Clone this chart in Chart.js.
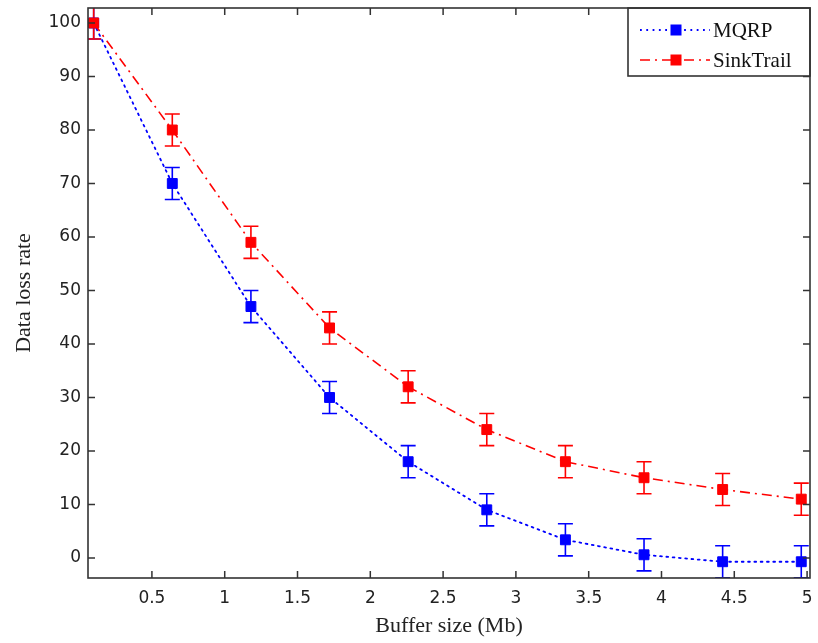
<!DOCTYPE html>
<html>
<head>
<meta charset="utf-8">
<script src="https://cdn.jsdelivr.net/npm/chart.js@4.4.1/dist/chart.umd.min.js"></script>
<style>
  html, body { margin: 0; padding: 0; background: #fff; }
  #wrap { width: 818px; height: 643px; }
</style>
</head>
<body>
<div id="wrap"><canvas id="c" width="818" height="643"></canvas></div>
<script>
// Buffer size (Mb) at each measurement
const bufferSizes = [0.1, 0.64, 1.18, 1.72, 2.26, 2.8, 3.34, 3.88, 4.42, 4.96];
// Data loss rate per protocol
const mqrpLoss      = [100, 70, 47, 30, 18, 9, 3.4, 0.6, -0.7, -0.7];
const sinkTrailLoss = [100, 80, 59, 43, 32, 24, 18, 15, 12.8, 11];
// Half-length of each error bar
const mqrpErr      = [3, 3, 3, 3, 3, 3, 3, 3, 3, 3];
const sinkTrailErr = [3, 3, 3, 3, 3, 3, 3, 3, 3, 3];
// Axis tick values
const xTickValues = [0.5, 1, 1.5, 2, 2.5, 3, 3.5, 4, 4.5, 5];
const yTickValues = [0, 10, 20, 30, 40, 50, 60, 70, 80, 90, 100];
const seriesNames = ['MQRP', 'SinkTrail'];

const BLUE = '#0000ff';
const RED = '#ff0000';
const FRAME = '#333333';
const serif = '"Liberation Serif", "Times New Roman", serif';
const sans = '"DejaVu Sans", sans-serif';

function pts(xs, ys) { return xs.map((x, i) => ({ x: x, y: ys[i] })); }

const errorBars = {
  id: 'errorBars',
  beforeDatasetsDraw(chart) {
    const { ctx, chartArea, scales } = chart;
    ctx.save();
    ctx.beginPath();
    ctx.rect(chartArea.left, chartArea.top, chartArea.right - chartArea.left, chartArea.bottom - chartArea.top);
    ctx.clip();
    chart.data.datasets.forEach(ds => {
      const errs = ds.errors;
      if (!errs) return;
      ctx.strokeStyle = ds.borderColor;
      ctx.lineWidth = 1.6;
      ds.data.forEach((p, i) => {
        const x = scales.x.getPixelForValue(p.x);
        const yTop = scales.y.getPixelForValue(p.y + errs[i]);
        const yBot = scales.y.getPixelForValue(p.y - errs[i]);
        const cap = 7.5;
        ctx.beginPath();
        ctx.moveTo(x, yTop); ctx.lineTo(x, yBot);
        ctx.moveTo(x - cap, yTop); ctx.lineTo(x + cap, yTop);
        ctx.moveTo(x - cap, yBot); ctx.lineTo(x + cap, yBot);
        ctx.stroke();
      });
    });
    ctx.restore();
  }
};

const frameAndLegend = {
  id: 'frameAndLegend',
  afterDraw(chart) {
    const { ctx, chartArea: a, scales } = chart;
    ctx.save();
    // inward ticks on all four sides
    ctx.strokeStyle = FRAME;
    ctx.lineWidth = 1.5;
    const tl = 7;
    ctx.beginPath();
    xTickValues.forEach(v => {
      const x = scales.x.getPixelForValue(v);
      ctx.moveTo(x, a.bottom); ctx.lineTo(x, a.bottom - tl);
      ctx.moveTo(x, a.top); ctx.lineTo(x, a.top + tl);
    });
    yTickValues.forEach(v => {
      const y = scales.y.getPixelForValue(v);
      ctx.moveTo(a.left, y); ctx.lineTo(a.left + tl, y);
      ctx.moveTo(a.right, y); ctx.lineTo(a.right - tl, y);
    });
    ctx.stroke();

    // legend box in the upper right corner
    const bx = 628, by = a.top, bw = a.right - 628, bh = 68;
    ctx.fillStyle = '#fff';
    ctx.fillRect(bx, by, bw, bh);
    ctx.strokeStyle = FRAME;
    ctx.lineWidth = 1.6;
    ctx.strokeRect(bx, by, bw, bh);

    const rows = [by + 22, by + 52];
    chart.data.datasets.forEach((ds, i) => {
      const y = rows[i];
      ctx.strokeStyle = ds.borderColor;
      ctx.lineWidth = ds.borderWidth;
      ctx.setLineDash(ds.borderDash);
      ctx.beginPath();
      ctx.moveTo(640, y); ctx.lineTo(710, y);
      ctx.stroke();
      ctx.setLineDash([]);
      ctx.fillStyle = ds.borderColor;
      ctx.fillRect(676 - 5.5, y - 5.5, 11, 11);
      ctx.fillStyle = '#111';
      ctx.font = '21px ' + serif;
      ctx.textBaseline = 'middle';
      ctx.textAlign = 'left';
      ctx.fillText(ds.label, 713, y + 1);
    });

    // plot frame
    ctx.strokeStyle = FRAME;
    ctx.lineWidth = 1.6;
    ctx.strokeRect(a.left, a.top, a.right - a.left, a.bottom - a.top);
    ctx.restore();
  }
};

new Chart(document.getElementById('c'), {
  type: 'line',
  data: {
    datasets: [
      {
        label: seriesNames[0],
        data: pts(bufferSizes, mqrpLoss),
        errors: mqrpErr,
        borderColor: BLUE,
        backgroundColor: BLUE,
        borderWidth: 1.8,
        borderDash: [1.8, 4.5],
        borderCapStyle: 'round',
        pointStyle: 'rect',
        pointRadius: 7,
        pointBorderWidth: 1,
        pointBackgroundColor: BLUE,
        pointBorderColor: BLUE,
        tension: 0,
        clip: 0,
        order: 2
      },
      {
        label: seriesNames[1],
        data: pts(bufferSizes, sinkTrailLoss),
        errors: sinkTrailErr,
        borderColor: RED,
        backgroundColor: RED,
        borderWidth: 1.6,
        borderDash: [10, 5, 2, 5],
        pointStyle: 'rect',
        pointRadius: 7,
        pointBorderWidth: 1,
        pointBackgroundColor: RED,
        pointBorderColor: RED,
        tension: 0,
        clip: 0,
        order: 1
      }
    ]
  },
  options: {
    responsive: false,
    animation: false,
    devicePixelRatio: 1,
    layout: { padding: { left: 0, right: 7, top: 8, bottom: 0 } },
    plugins: { legend: { display: false }, tooltip: { enabled: false } },
    scales: {
      x: {
        type: 'linear',
        min: 0.061,
        max: 5.02,
        grid: { display: false, drawTicks: false },
        border: { display: false },
        afterBuildTicks(scale) { scale.ticks = xTickValues.map(v => ({ value: v })); },
        afterFit(scale) {
          scale.height = 65;
          scale.paddingLeft = 0; scale.paddingRight = 0;
        },
        ticks: {
          color: '#222',
          font: { family: sans, size: 17 },
          padding: 10,
          maxRotation: 0,
          autoSkip: false,
          callback: v => String(v)
        },
        title: {
          display: true,
          text: 'Buffer size (Mb)',
          color: '#222',
          font: { family: serif, size: 22 },
          padding: { top: 4, bottom: 4 }
        }
      },
      y: {
        type: 'linear',
        min: -3.74,
        max: 102.8,
        grid: { display: false, drawTicks: false },
        border: { display: false },
        afterBuildTicks(scale) { scale.ticks = yTickValues.map(v => ({ value: v })); },
        afterFit(scale) {
          scale.width = 88;
          scale.paddingTop = 0; scale.paddingBottom = 0;
        },
        ticks: {
          color: '#222',
          font: { family: sans, size: 17 },
          padding: 7,
          autoSkip: false,
          callback: v => String(v)
        },
        title: {
          display: true,
          text: 'Data loss rate',
          color: '#222',
          font: { family: serif, size: 22 },
          padding: { top: 11, bottom: 4 }
        }
      }
    }
  },
  plugins: [errorBars, frameAndLegend]
});
</script>
</body>
</html>
